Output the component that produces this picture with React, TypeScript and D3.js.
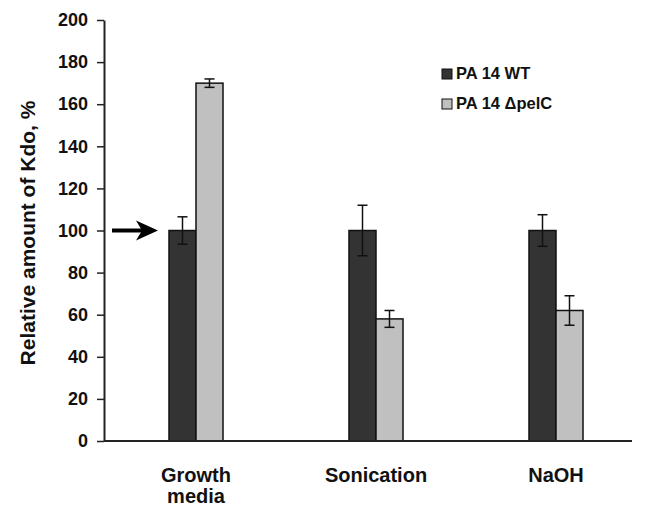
import React, { useEffect, useRef } from "react";
import * as d3 from "d3";

const categories = ["Growth media", "Sonication", "NaOH"];
const categoryLines = [["Growth", "media"], ["Sonication"], ["NaOH"]];
const seriesNames = ["PA 14 WT", "PA 14 \u0394pelC"];
const wtValues = [100, 100, 100];
const wtErrors = [6.5, 12, 7.5];
const pelValues = [170, 58, 62];
const pelErrors = [2, 4, 7];
const yTicks = [0, 20, 40, 60, 80, 100, 120, 140, 160, 180, 200];
const colors = ["#333333", "#c0c0c0"];

const W = 646;
const H = 507;

export default function App() {
  const ref = useRef<SVGSVGElement>(null);

  useEffect(() => {
    const svg = d3.select(ref.current);
    svg.selectAll("*").remove();

    const y = d3.scaleLinear().domain([0, 200]).range([441, 20]);
    const x = d3.scaleBand().domain(categories).range([106, 646]).padding(0);
    const barW = 27;
    const font = "'Liberation Sans', Arial, sans-serif";

    const series = [
      { values: wtValues, errors: wtErrors, offset: -barW },
      { values: pelValues, errors: pelErrors, offset: 0 },
    ];

    // bars
    series.forEach((s, si) => {
      const g = svg.append("g");
      categories.forEach((c, i) => {
        const cx = (x(c) as number) + x.bandwidth() / 2;
        const x0 = cx + s.offset;
        g.append("rect")
          .attr("x", x0)
          .attr("y", y(s.values[i]))
          .attr("width", barW)
          .attr("height", y(0) - y(s.values[i]))
          .attr("fill", colors[si])
          .attr("stroke", "#111")
          .attr("stroke-width", 1.5);
      });
    });

    // error bars
    series.forEach((s) => {
      categories.forEach((c, i) => {
        const cx = (x(c) as number) + x.bandwidth() / 2 + s.offset + barW / 2;
        const hi = y(s.values[i] + s.errors[i]);
        const lo = y(s.values[i] - s.errors[i]);
        const g = svg.append("g").attr("stroke", "#111").attr("stroke-width", 1.5);
        g.append("line").attr("x1", cx).attr("x2", cx).attr("y1", hi).attr("y2", lo);
        g.append("line").attr("x1", cx - 5).attr("x2", cx + 5).attr("y1", hi).attr("y2", hi);
        g.append("line").attr("x1", cx - 5).attr("x2", cx + 5).attr("y1", lo).attr("y2", lo);
      });
    });

    // y axis
    const yAxis = d3.axisLeft(y).tickValues(yTicks).tickSize(7).tickSizeOuter(0).tickPadding(9);
    const ya = svg.append("g").attr("transform", "translate(104,0)").call(yAxis);
    ya.select(".domain").attr("stroke", "#222").attr("stroke-width", 2);
    ya.selectAll(".tick line").attr("stroke", "#222").attr("stroke-width", 1.5);
    ya.selectAll(".tick text")
      .attr("font-family", font)
      .attr("font-weight", "bold")
      .attr("font-size", 18)
      .attr("fill", "#111");

    // x axis line
    svg.append("line")
      .attr("x1", 104).attr("x2", 632)
      .attr("y1", y(0)).attr("y2", y(0))
      .attr("stroke", "#222").attr("stroke-width", 2);

    // x labels
    categories.forEach((c, i) => {
      const cx = (x(c) as number) + x.bandwidth() / 2;
      categoryLines[i].forEach((line, li) => {
        svg.append("text")
          .attr("x", cx)
          .attr("y", 482 + li * 21)
          .attr("text-anchor", "middle")
          .attr("font-family", font)
          .attr("font-weight", "bold")
          .attr("font-size", 20)
          .attr("fill", "#111")
          .text(line);
      });
    });

    // y title
    svg.append("text")
      .attr("transform", "translate(35,233) rotate(-90)")
      .attr("text-anchor", "middle")
      .attr("font-family", font)
      .attr("font-weight", "bold")
      .attr("font-size", 21)
      .attr("fill", "#111")
      .text("Relative amount of Kdo, %");

    // arrow
    const ay = y(100);
    svg.append("line")
      .attr("x1", 112).attr("x2", 142)
      .attr("y1", ay).attr("y2", ay)
      .attr("stroke", "#000").attr("stroke-width", 4);
    svg.append("path")
      .attr("d", `M158,${ay} L136,${ay - 10} L142,${ay} L136,${ay + 10} Z`)
      .attr("fill", "#000");

    // legend
    seriesNames.forEach((n, i) => {
      const ly = 79 + i * 30;
      svg.append("rect")
        .attr("x", 442).attr("y", ly - 10)
        .attr("width", 10).attr("height", 10)
        .attr("fill", colors[i]).attr("stroke", "#111").attr("stroke-width", 1);
      svg.append("text")
        .attr("x", 456).attr("y", ly)
        .attr("font-family", font)
        .attr("font-weight", "bold")
        .attr("font-size", 16.5)
        .attr("fill", "#111")
        .text(n);
    });
  }, []);

  return (
    <svg
      ref={ref}
      width={W}
      height={H}
      style={{ position: "absolute", left: 0, top: 0, background: "#fff" }}
    />
  );
}
